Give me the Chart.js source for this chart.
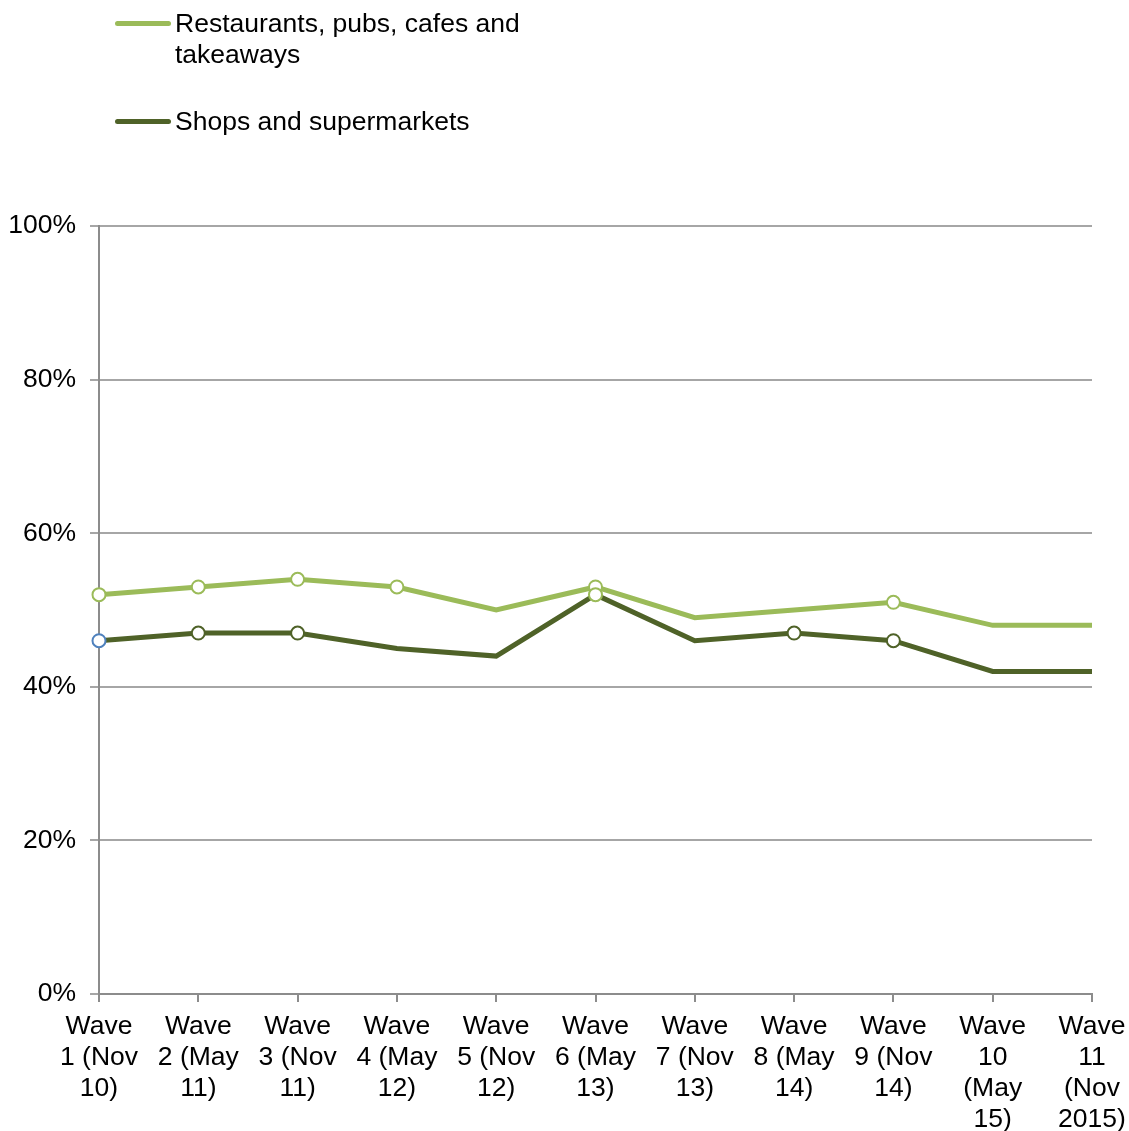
<!DOCTYPE html>
<html>
<head>
<meta charset="utf-8">
<script src="https://cdn.jsdelivr.net/npm/chart.js@4.4.0/dist/chart.umd.min.js"></script>
<style>
  html, body { margin: 0; padding: 0; background: #fff; }
  #wrap { position: relative; width: 1129px; height: 1131px; }
  canvas { position: absolute; left: 0; top: 0; }
  .leg { position: absolute; font-family: "Liberation Sans", Arial, sans-serif; font-size: 26.5px; line-height: 31px; color: #000; }
  .leg .sw { position: absolute; left: -60px; top: 13px; width: 56px; height: 5px; border-radius: 3px; }
</style>
</head>
<body>
<div id="wrap">
  <canvas id="c" width="1129" height="1131"></canvas>
  <div class="leg" style="left:175px; top:8px; width:380px;"><span class="sw" style="background:#9BBB59"></span>Restaurants, pubs, cafes and takeaways</div>
  <div class="leg" style="left:175px; top:106px;"><span class="sw" style="background:#4F6228"></span>Shops and supermarkets</div>
</div>
<script>
const categories = [
  ["Wave","1 (Nov","10)"],
  ["Wave","2 (May","11)"],
  ["Wave","3 (Nov","11)"],
  ["Wave","4 (May","12)"],
  ["Wave","5 (Nov","12)"],
  ["Wave","6 (May","13)"],
  ["Wave","7 (Nov","13)"],
  ["Wave","8 (May","14)"],
  ["Wave","9 (Nov","14)"],
  ["Wave","10","(May","15)"],
  ["Wave","11","(Nov","2015)"]
];
const restaurants = [52, 53, 54, 53, 50, 53, 49, 50, 51, 48, 48];
const shops = [46, 47, 47, 45, 44, 52, 46, 47, 46, 42, 42];
const yTicks = [0, 20, 40, 60, 80, 100];

const LIGHT = '#9BBB59', DARK = '#4F6228', BLUE = '#4F81BD';
const restMarkers = [1,1,1,1,0,1,0,0,1,0,0];
const shopMarkers = [1,1,1,0,0,1,0,1,1,0,0];
const shopMarkerColors = [BLUE, DARK, DARK, DARK, DARK, LIGHT, DARK, DARK, DARK, DARK, DARK];

const FONT = { family: '"Liberation Sans", Arial, sans-serif', size: 26.5, lineHeight: 1.17 };

new Chart(document.getElementById('c'), {
  type: 'line',
  data: {
    labels: categories,
    datasets: [
      {
        label: 'Restaurants, pubs, cafes and takeaways',
        data: restaurants,
        borderColor: LIGHT,
        borderWidth: 5,
        tension: 0,
        pointRadius: restMarkers.map(m => m ? 6.5 : 0),
        pointBackgroundColor: '#fff',
        pointBorderColor: LIGHT,
        pointBorderWidth: 2,
        order: 2
      },
      {
        label: 'Shops and supermarkets',
        data: shops,
        borderColor: DARK,
        borderWidth: 5,
        tension: 0,
        pointRadius: shopMarkers.map(m => m ? 6.5 : 0),
        pointBackgroundColor: '#fff',
        pointBorderColor: shopMarkerColors,
        pointBorderWidth: 2,
        order: 1
      }
    ]
  },
  options: {
    responsive: false,
    animation: false,
    layout: { padding: { top: 226, right: 37, left: 0, bottom: 0 } },
    plugins: { legend: { display: false }, tooltip: { enabled: false } },
    scales: {
      x: {
        offset: false,
        grid: { drawOnChartArea: false, drawTicks: true, tickLength: 8, color: '#8C8C8C', lineWidth: 2 },
        border: { display: true, color: '#8C8C8C', width: 2 },
        ticks: { color: '#000', font: FONT, maxRotation: 0, autoSkip: false, padding: 9 },
        afterFit: s => { s.height = 137; s.paddingRight = 0; s.paddingLeft = 0; }
      },
      y: {
        min: 0, max: 100,
        afterBuildTicks: s => { s.ticks = yTicks.map(v => ({ value: v })); },
        grid: { color: '#A6A6A6', lineWidth: 2, tickLength: 9, drawTicks: true },
        border: { display: true, color: '#8C8C8C', width: 2 },
        ticks: { color: '#000', font: FONT, padding: 14, callback: v => v + '%' },
        afterFit: s => { s.width = 99; s.paddingTop = 0; s.paddingBottom = 0; }
      }
    }
  }
});
</script>
</body>
</html>
